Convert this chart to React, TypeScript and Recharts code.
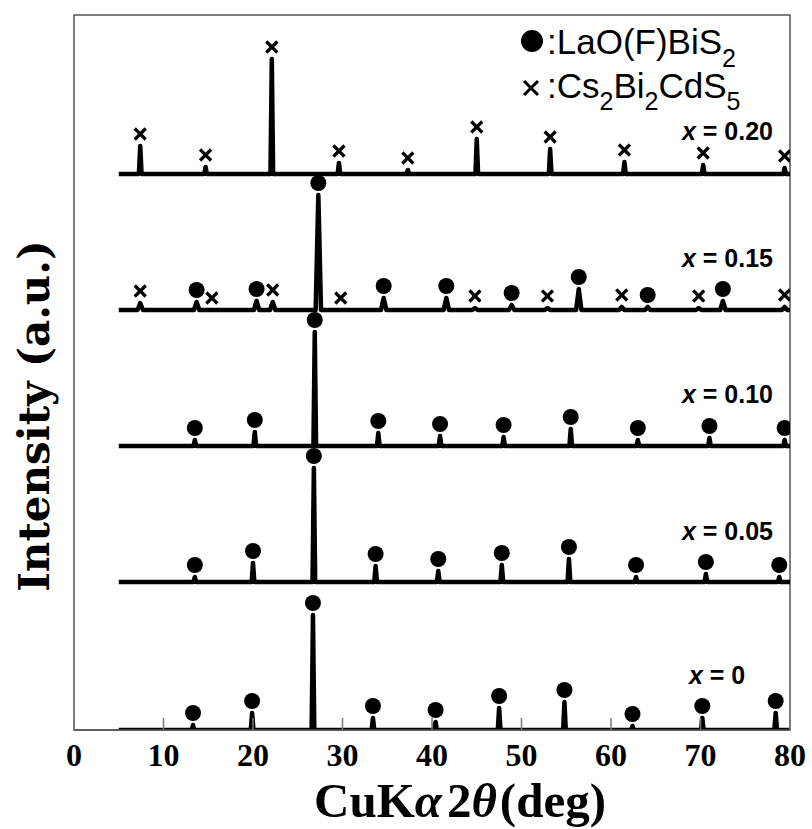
import { ComposedChart, Line, Scatter, XAxis, YAxis, ReferenceArea, ReferenceDot, Legend } from 'recharts'

// composition x of each pattern, bottom to top
const traceLabels = ['0', '0.05', '0.10', '0.15', '0.20']
// vertical offset of each pattern (arbitrary intensity units)
const traceOffsets = [0, 148, 284, 420, 556]
// where the "x = ..." text sits (right edge in deg, height above zero)
const labelRight = [75.0, 78.1, 78.1, 78.1, 78.1]
const labelHeight = [46, 190, 327, 463, 590]

const xTicks = [0, 10, 20, 30, 40, 50, 60, 70, 80]

// peak angles (2θ), heights and phase ('o' LaO(F)BiS2, 'x' Cs2Bi2CdS5)
const angles0 = [13.3, 19.9, 26.7, 33.4, 40.4, 47.5, 54.8, 62.4, 70.2, 78.4]
const heights0 = [5, 17, 115, 12, 8, 22, 28, 4, 12, 17]
const phases0 = ['o', 'o', 'o', 'o', 'o', 'o', 'o', 'o', 'o', 'o']

const angles05 = [13.5, 20.0, 26.8, 33.7, 40.7, 47.8, 55.3, 62.8, 70.6, 78.8]
const heights05 = [5, 19, 114, 16, 11, 17, 23, 5, 8, 5]
const phases05 = ['o', 'o', 'o', 'o', 'o', 'o', 'o', 'o', 'o', 'o']

const angles10 = [13.5, 20.2, 26.9, 34.0, 40.9, 48.0, 55.5, 63.0, 71.0, 79.4]
const heights10 = [6, 14, 114, 13, 10, 9, 17, 6, 8, 6]
const phases10 = ['o', 'o', 'o', 'o', 'o', 'o', 'o', 'o', 'o', 'o']

const angles15 = [7.4, 13.7, 15.4, 20.4, 22.2, 27.3, 29.8, 34.6, 41.6, 44.8, 48.9, 52.9, 56.4, 61.2, 64.1, 69.8, 72.5, 79.4]
const heights15 = [7, 8, 0, 9, 8, 115, 0, 12, 12, 2, 5, 2, 21, 3, 3, 2, 9, 3]
const phases15 = ['x', 'o', 'x', 'o', 'x', 'o', 'x', 'o', 'o', 'x', 'o', 'x', 'o', 'x', 'o', 'x', 'o', 'x']

const angles20 = [7.4, 14.7, 22.1, 29.6, 37.3, 45.0, 53.2, 61.5, 70.3, 79.4]
const heights20 = [28, 7, 115, 11, 4, 35, 25, 12, 9, 6]
const phases20 = ['x', 'x', 'x', 'x', 'x', 'x', 'x', 'x', 'x', 'x']

const patterns = [
  { angles: angles0, heights: heights0, phases: phases0 },
  { angles: angles05, heights: heights05, phases: phases05 },
  { angles: angles10, heights: heights10, phases: phases10 },
  { angles: angles15, heights: heights15, phases: phases15 },
  { angles: angles20, heights: heights20, phases: phases20 },
]

const MARK_GAP = 12

function profile(angles: number[], heights: number[], base: number, hw: number) {
  const pts = [{ t: 5, y: base }]
  angles.forEach((a, i) => {
    pts.push({ t: a - hw, y: base }, { t: a, y: base + heights[i] }, { t: a + hw, y: base })
  })
  pts.push({ t: 80, y: base })
  return pts
}

function marks(angles: number[], heights: number[], phases: string[], base: number, kind: string) {
  return angles
    .map((a, i) => ({ t: a, y: base + heights[i] + MARK_GAP, m: phases[i] }))
    .filter(p => p.m === kind)
}

const Dot = (p: any) => <circle cx={p.cx} cy={p.cy} r={8} fill="#000" />
const Cross = (p: any) => (
  <g stroke="#000" strokeWidth={3.2}>
    <line x1={p.cx - 5.5} y1={p.cy - 5.5} x2={p.cx + 5.5} y2={p.cy + 5.5} />
    <line x1={p.cx - 5.5} y1={p.cy + 5.5} x2={p.cx + 5.5} y2={p.cy - 5.5} />
  </g>
)

const XTick = (p: any) => (
  <g>
    <line x1={p.x} x2={p.x} y1={p.y} y2={p.y - 12} stroke="#777" strokeWidth={1.5} />
    <text x={p.x} y={p.y + 36} textAnchor="middle" fontFamily="'Liberation Serif', serif" fontWeight="bold" fontSize={32} fill="#000">
      {p.payload.value}
    </text>
  </g>
)

const YTitle = (p: any) => {
  const cx = p.cx - 40
  const cy = p.cy
  return (
    <text x={cx} y={cy} transform={`rotate(-90, ${cx}, ${cy})`} textAnchor="middle" dominantBaseline="central" fontFamily="'DejaVu Serif', serif" fontWeight="bold" fontSize={42} fill="#000">
      Intensity (a.u.)
    </text>
  )
}

const renderLegend = () => (
  <svg width={300} height={100} style={{ fontFamily: "'Liberation Sans', Arial, sans-serif" }}>
    <circle cx={22} cy={23} r={11} fill="#000" />
    <text x={37} y={36} fontSize={35} fill="#000">
      <tspan>:LaO(F)BiS</tspan>
      <tspan dy={13} fontSize={25}>2</tspan>
    </text>
    <g stroke="#000" strokeWidth={3}>
      <line x1={14} y1={63} x2={28} y2={77} />
      <line x1={14} y1={77} x2={28} y2={63} />
    </g>
    <text x={37} y={80} fontSize={35} fill="#000">
      <tspan>:Cs</tspan>
      <tspan dy={12} fontSize={25}>2</tspan>
      <tspan dy={-12}>Bi</tspan>
      <tspan dy={12} fontSize={25}>2</tspan>
      <tspan dy={-12}>CdS</tspan>
      <tspan dy={12} fontSize={25}>5</tspan>
    </text>
  </svg>
)

export default function App() {
  return (
    <div style={{ position: 'absolute', left: 0, top: 0, background: '#fff' }}>
      <ComposedChart width={812} height={829} margin={{ top: 15, right: 22, bottom: 39, left: 74 }}>
        <XAxis
          dataKey="t"
          type="number"
          domain={[0, 80]}
          ticks={xTicks}
          allowDataOverflow
          height={60}
          tickSize={0}
          tickMargin={0}
          tickLine={false}
          tick={<XTick />}
          axisLine={{ stroke: '#555', strokeWidth: 1.5 }}
          label={{
            content: (p: any) => {
              const vb = p.viewBox
              return (
                <text x={vb.x + vb.width / 2 + 28} y={vb.y + 87} textAnchor="middle" fontFamily="'Liberation Serif', serif" fontWeight="bold" fontSize={49} fill="#000">
                  <tspan>CuK</tspan>
                  <tspan fontStyle="italic">α</tspan>
                  <tspan dx={5}>2</tspan>
                  <tspan fontStyle="italic">θ</tspan>
                  <tspan dx={3}>(deg)</tspan>
                </text>
              )
            },
          }}
        />
        <YAxis dataKey="y" type="number" domain={[0, 715]} allowDataOverflow width={0} tick={false} tickLine={false} axisLine={false} />
        <ReferenceArea x1={0} x2={80} y1={0} y2={715} fill="none" stroke="#555" strokeWidth={1.5} ifOverflow="visible" />
        <ReferenceDot x={0} y={314} r={0} ifOverflow="visible" shape={YTitle} />
        <Legend content={renderLegend} layout="horizontal" verticalAlign="middle" align="center" wrapperStyle={{ position: 'absolute', left: 510, top: 18, width: 300 }} />
        {patterns.map((pt, k) => (
          <Line
            key={`line-${k}`}
            data={profile(pt.angles, pt.heights, traceOffsets[k], k === 3 ? 0.3 : 0.15)}
            dataKey="y"
            type="linear"
            stroke="#000"
            strokeWidth={4.5}
            strokeLinejoin="round"
            dot={false}
            isAnimationActive={false}
            legendType="none"
          />
        ))}
        {patterns.map((pt, k) => (
          <Scatter
            key={`o-${k}`}
            data={marks(pt.angles, pt.heights, pt.phases, traceOffsets[k], 'o')}
            dataKey="y"
            shape={Dot}
            isAnimationActive={false}
            legendType="none"
          />
        ))}
        {patterns.map((pt, k) => (
          <Scatter
            key={`x-${k}`}
            data={marks(pt.angles, pt.heights, pt.phases, traceOffsets[k], 'x')}
            dataKey="y"
            shape={Cross}
            isAnimationActive={false}
            legendType="none"
          />
        ))}
        {traceLabels.map((lab, k) => (
          <ReferenceDot
            key={`lab-${k}`}
            x={labelRight[k]}
            y={labelHeight[k]}
            r={0}
            shape={(p: any) => (
              <text x={p.cx} y={p.cy} textAnchor="end" fontFamily="'Liberation Sans', Arial, sans-serif" fontWeight="bold" fontSize={25} fill="#000">
                <tspan fontStyle="italic">x</tspan>
                <tspan> = {lab}</tspan>
              </text>
            )}
          />
        ))}
      </ComposedChart>
    </div>
  )
}
